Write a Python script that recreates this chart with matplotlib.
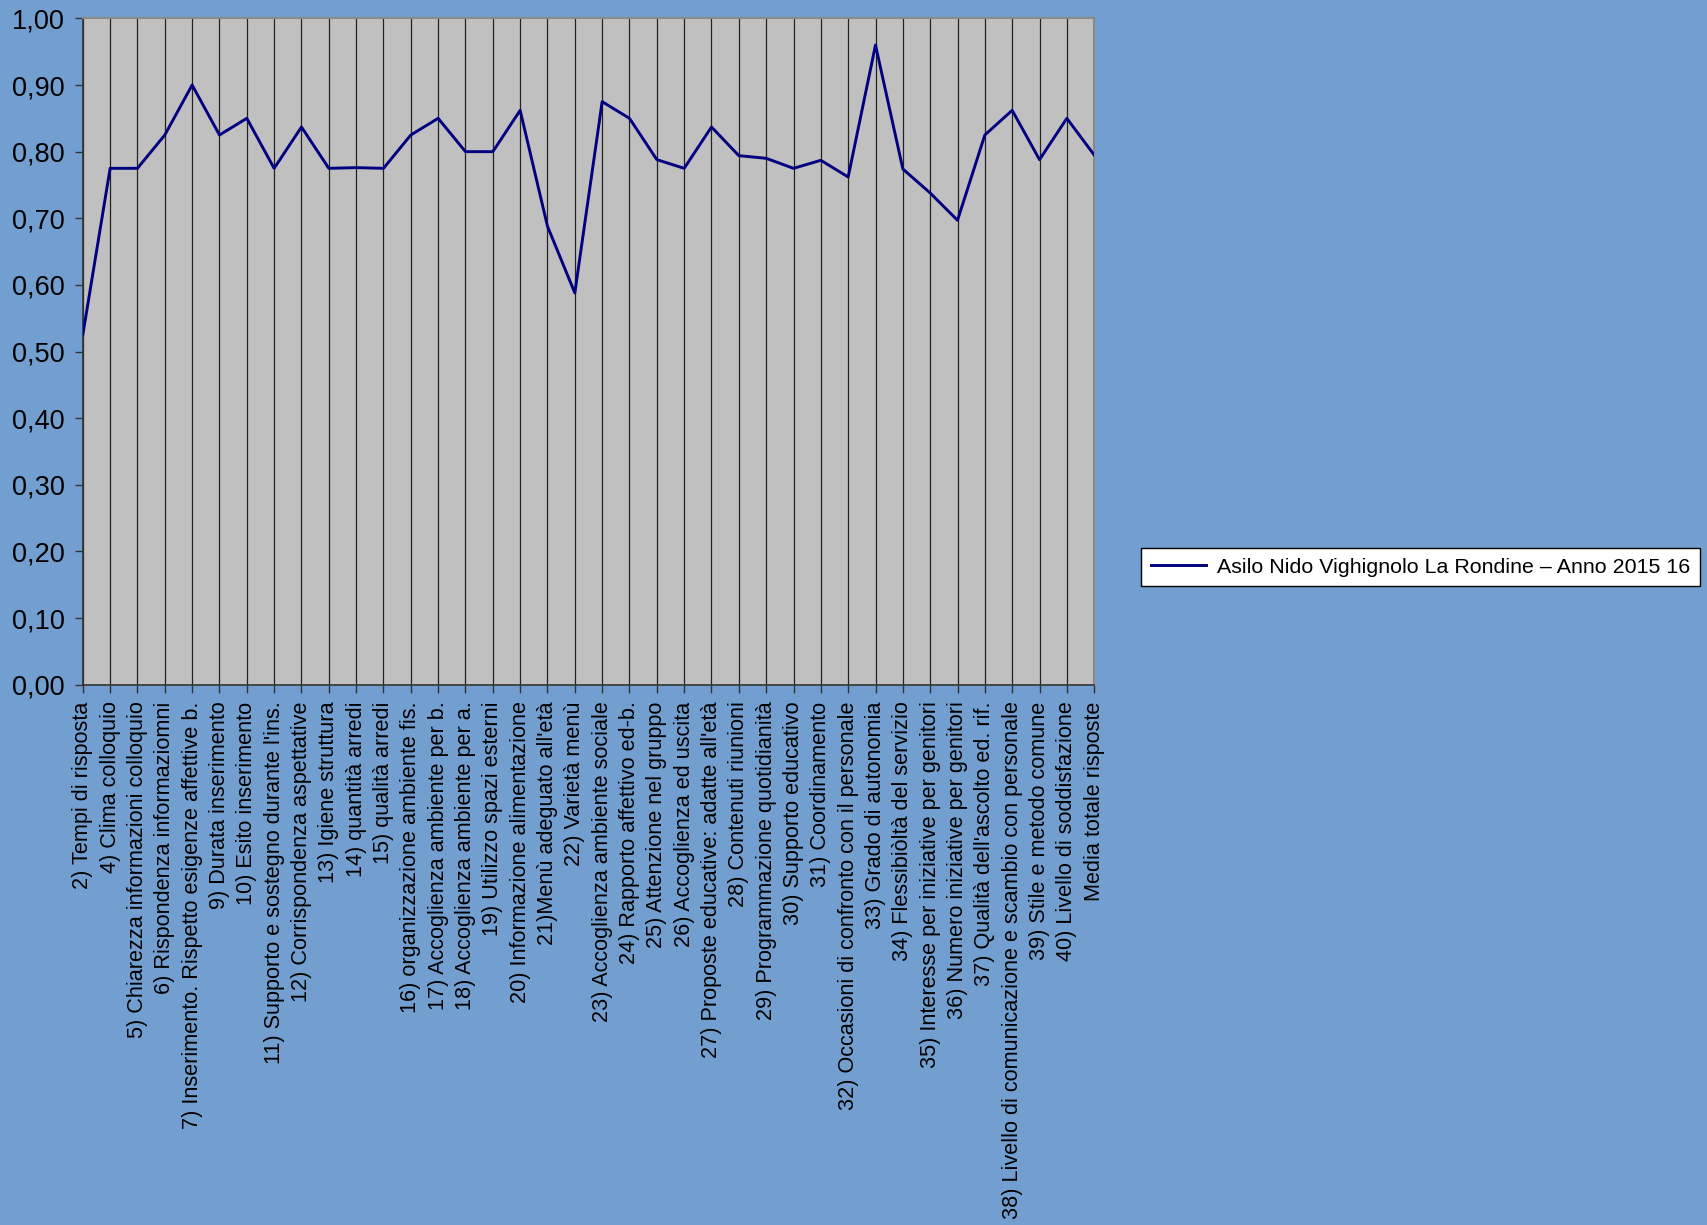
import matplotlib
matplotlib.use("Agg")
import matplotlib.pyplot as plt
from matplotlib.ticker import FuncFormatter, MultipleLocator

plt.rcParams['font.family'] = ['Liberation Sans', 'DejaVu Sans']

# Categories (x axis labels)
categories = [
    "2) Tempi di risposta",
    "4) Clima colloquio",
    "5) Chiarezza informazioni colloquio",
    "6) Rispondenza informaziomni",
    "7) Inserimento. Rispetto esigenze affettive b.",
    "9) Durata inserimento",
    "10) Esito inserimento",
    "11) Supporto e sostegno durante l'ins.",
    "12) Corrispondenza aspettative",
    "13) Igiene struttura",
    "14) quantità arredi",
    "15) qualità arredi",
    "16) organizzazione ambiente fis.",
    "17) Accoglienza ambiente per b.",
    "18) Accoglienza ambiente per a.",
    "19) Utilizzo spazi esterni",
    "20) Informazione alimentazione",
    "21)Menù adeguato all'età",
    "22) Varietà menù",
    "23) Accoglienza ambiente sociale",
    "24) Rapporto affettivo ed-b.",
    "25) Attenzione nel gruppo",
    "26) Accoglienza ed uscita",
    "27) Proposte educative: adatte all'età",
    "28) Contenuti riunioni",
    "29) Programmazione quotidianità",
    "30) Supporto educativo",
    "31) Coordinamento",
    "32) Occasioni di confronto con il personale",
    "33) Grado di autonomia",
    "34) Flessibiòltà del servizio",
    "35) Interesse per iniziative per genitori",
    "36) Numero iniziative per genitori",
    "37) Qualità dell'ascolto ed. rif.",
    "38) Livello di comunicazione e scambio con personale",
    "39) Stile e metodo comune",
    "40) Livello di soddisfazione",
    "Media totale risposte",
]

# Series values
values = [
    0.525, 0.775, 0.775, 0.825, 0.900, 0.825, 0.850, 0.775, 0.837, 0.775,
    0.776, 0.775, 0.825, 0.850, 0.800, 0.800, 0.862, 0.688, 0.588, 0.875,
    0.850, 0.788, 0.775, 0.837, 0.794, 0.790, 0.775, 0.787, 0.762, 0.960,
    0.774, 0.738, 0.697, 0.825, 0.862, 0.788, 0.850, 0.795,
]

series_name = "Asilo Nido Vighignolo La Rondine \u2013 Anno 2015 16"

bg = '#729fcf'
fig = plt.figure(figsize=(17.07, 12.25), dpi=100, facecolor=bg)
ax = fig.add_axes([0.0485, 0.441, 0.5925, 0.544])
ax.set_facecolor('#c0c0c0')

x = list(range(len(categories)))
line, = ax.plot(x, values, color='#000080', lw=2.1, label=series_name, zorder=3)

ax.set_xlim(0, len(categories) - 1)
ax.set_ylim(0, 1)
ax.yaxis.set_major_locator(MultipleLocator(0.1))
ax.yaxis.set_major_formatter(FuncFormatter(lambda v, p: f"{v:.2f}".replace('.', ',')))

ax.set_xticks(x)
ax.set_xticklabels(categories, rotation=90, fontsize=15.6, ha='center', va='top')
ax.tick_params(axis='y', labelsize=19.5, direction='out', length=6, width=1, color='#333333', pad=7)
ax.tick_params(axis='x', direction='out', length=6, width=1, color='#333333', pad=6)

ax.grid(axis='x', color='#222222', lw=0.9, zorder=1)
ax.grid(axis='y', visible=False)

for side in ['left', 'bottom']:
    ax.spines[side].set_color('#333333')
    ax.spines[side].set_linewidth(1.2)
for side in ['top', 'right']:
    ax.spines[side].set_color('#8a8a8a')
    ax.spines[side].set_linewidth(1.5)

leg = fig.legend(handles=[line], loc='center left', bbox_to_anchor=(0.6685, 0.537),
                 borderaxespad=0, fontsize=15.4, frameon=True, fancybox=False, framealpha=1,
                 edgecolor='black', handlelength=2.6, borderpad=0.45, handletextpad=0.5)
leg.get_frame().set_linewidth(1.0)

fig.savefig('out.png', dpi=100, facecolor=bg)
